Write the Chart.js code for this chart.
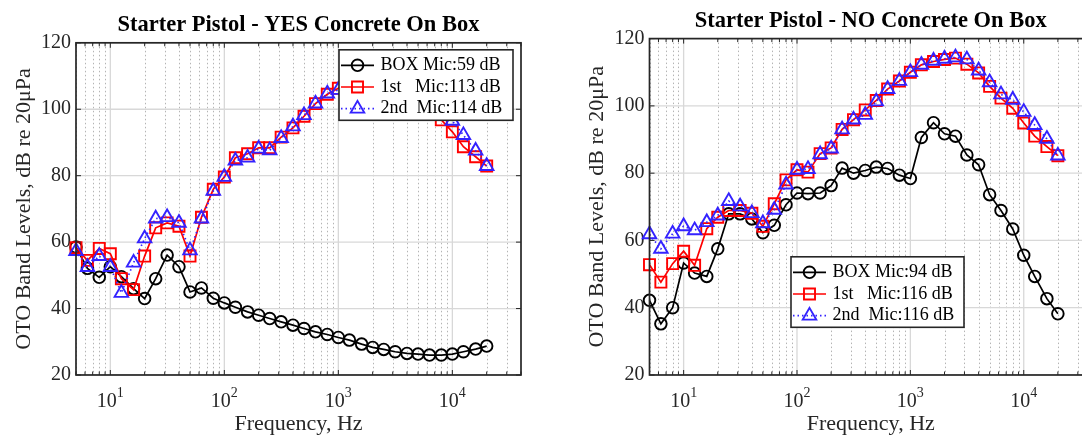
<!DOCTYPE html>
<html>
<head>
<meta charset="utf-8">
<script src="https://cdn.jsdelivr.net/npm/chart.js@4.4.1/dist/chart.umd.min.js"></script>
<style>
  html, body { margin: 0; padding: 0; background: #fff; overflow: hidden; }
  body { width: 1082px; height: 438px; position: relative; }
  .panel { position: absolute; top: 0; height: 438px; }
  #leftPanel { left: 0; width: 541px; }
  #rightPanel { left: 541px; width: 571px; }
</style>
</head>
<body>
<div class="panel" id="leftPanel"><canvas id="chartYes"></canvas></div>
<div class="panel" id="rightPanel"><canvas id="chartNo"></canvas></div>
<script>
// 1/3 octave band centre frequencies (Hz)
const freqs = [5, 6.3, 8, 10, 12.5, 16, 20, 25, 31.5, 40, 50, 63, 80, 100, 125, 160, 200, 250, 315,
  400, 500, 630, 800, 1000, 1250, 1600, 2000, 2500, 3150, 4000, 5000, 6300, 8000, 10000, 12500, 16000, 20000];

// YES concrete on box
const yesBox = [58.5, 52.1, 49.4, 52.6, 49.6, 46.0, 43.0, 49.0, 56.1, 52.6, 45.0, 46.2, 43.1, 41.7, 40.4, 39.0, 38.0, 37.0, 36.0,
  35.0, 34.0, 33.0, 32.2, 31.3, 30.5, 29.3, 28.3, 27.7, 27.0, 26.5, 26.3, 26.0, 26.0, 26.3, 27.0, 27.8, 28.7];
const yes1st = [58.3, 54.5, 58.1, 56.5, 49.0, 45.7, 55.8, 64.3, 65.8, 64.8, 55.8, 67.5, 75.9, 79.6, 85.4, 86.6, 88.4, 88.4, 91.6,
  94.4, 97.9, 101.7, 104.5, 106.3, 108.5, 110.0, 111.0, 111.0, 110.0, 107.5, 104.0, 100.5, 96.8, 93.2, 88.7, 85.7, 82.9];
const yes2nd = [57.3, 52.5, 55.8, 52.5, 44.7, 53.8, 61.1, 67.1, 67.5, 65.8, 57.5, 67.1, 75.4, 79.6, 84.5, 85.4, 88.1, 87.6, 91.3,
  94.8, 98.2, 101.7, 104.7, 105.8, 108.0, 110.0, 111.0, 111.5, 110.5, 108.5, 105.5, 102.0, 99.0, 96.5, 92.2, 87.5, 82.9];

// NO concrete on box
const noBox = [42.2, 35.2, 40.0, 53.3, 50.3, 49.3, 57.5, 67.9, 67.9, 66.4, 62.3, 64.5, 70.6, 74.1, 73.9, 74.1, 76.3, 81.5, 80.0,
  80.8, 81.8, 81.4, 79.4, 78.4, 90.6, 95.0, 91.7, 91.0, 85.4, 82.5, 73.6, 68.9, 63.4, 55.6, 49.3, 42.7, 38.2];
const no1st = [52.8, 47.6, 53.1, 56.8, 52.6, 63.5, 66.9, 68.9, 68.9, 68.1, 64.2, 70.9, 78.0, 81.0, 80.3, 85.8, 87.5, 93.0, 95.9,
  98.8, 101.6, 105.0, 107.4, 110.0, 112.2, 113.2, 113.8, 114.2, 112.4, 109.8, 105.8, 102.3, 99.3, 94.9, 91.0, 87.9, 85.2];
const no2nd = [61.8, 57.5, 62.0, 64.2, 63.0, 65.4, 67.4, 71.7, 70.1, 68.1, 65.1, 69.1, 76.6, 81.0, 81.2, 85.6, 87.3, 93.0, 95.9,
  97.3, 101.3, 105.0, 107.4, 110.0, 112.2, 113.4, 114.0, 114.4, 113.8, 110.5, 107.0, 103.4, 101.8, 98.2, 94.3, 90.2, 85.2];

const yesLabels = ['BOX Mic:59 dB', '1st   Mic:113 dB', '2nd  Mic:114 dB'];
const noLabels = ['BOX Mic:94 dB', '1st   Mic:116 dB', '2nd  Mic:116 dB'];

const yTicks = [20, 40, 60, 80, 100, 120];
const xMajorTicks = [10, 100, 1000, 10000];
const xMin = 5, xMax = 40000;

const FONT = '"Liberation Serif", "Times New Roman", serif';
const AXIS_COLOR = '#262626';
const RED = '#ff0000';
const BLUE = '#3322ff';

// minor log grid positions (2..9 x decade)
const xMinorTicks = [];
for (let d = 1; d <= 10000; d *= 10) {
  for (let k = 2; k <= 9; k++) {
    const v = k * d;
    if (v >= xMin && v <= xMax) xMinorTicks.push(v);
  }
}

function line(ctx, x1, y1, x2, y2) {
  ctx.beginPath();
  ctx.moveTo(x1, y1);
  ctx.lineTo(x2, y2);
  ctx.stroke();
}

function marker(ctx, style, r, x, y) {
  ctx.beginPath();
  if (style === 'circle') {
    ctx.arc(x, y, r, 0, Math.PI * 2);
  } else if (style === 'rect') {
    const s = Math.SQRT1_2 * r;
    ctx.rect(x - s, y - s, 2 * s, 2 * s);
  } else {
    ctx.moveTo(x, y - r);
    ctx.lineTo(x + r * 0.866, y + r / 2);
    ctx.lineTo(x - r * 0.866, y + r / 2);
    ctx.closePath();
  }
  ctx.stroke();
}

const matlabAxes = {
  id: 'matlabAxes',
  beforeDatasetsDraw(chart) {
    const {ctx, chartArea: a, scales: {x, y}} = chart;
    ctx.save();
    ctx.beginPath();
    ctx.rect(a.left, a.top, a.width, a.height);
    ctx.clip();
    // minor grid (dotted)
    ctx.strokeStyle = '#b4b4b4';
    ctx.lineWidth = 1;
    ctx.setLineDash([1.5, 2.5]);
    xMinorTicks.forEach(f => {
      const px = Math.round(x.getPixelForValue(f)) + 0.5;
      line(ctx, px, a.top, px, a.bottom);
    });
    // major grid
    ctx.setLineDash([]);
    ctx.strokeStyle = '#d8d8d8';
    ctx.lineWidth = 1.3;
    xMajorTicks.forEach(f => {
      const px = x.getPixelForValue(f);
      line(ctx, px, a.top, px, a.bottom);
    });
    yTicks.forEach(v => {
      const py = y.getPixelForValue(v);
      line(ctx, a.left, py, a.right, py);
    });
    ctx.restore();
  },
  afterDatasetsDraw(chart) {
    const {ctx, chartArea: a, scales: {x, y}} = chart;
    ctx.save();
    ctx.strokeStyle = AXIS_COLOR;
    ctx.lineWidth = 1;
    // inward ticks
    xMajorTicks.forEach(f => {
      const px = x.getPixelForValue(f);
      line(ctx, px, a.bottom, px, a.bottom - 5);
      line(ctx, px, a.top, px, a.top + 5);
    });
    xMinorTicks.forEach(f => {
      const px = x.getPixelForValue(f);
      line(ctx, px, a.bottom, px, a.bottom - 3.5);
      line(ctx, px, a.top, px, a.top + 3.5);
    });
    yTicks.forEach(v => {
      const py = y.getPixelForValue(v);
      line(ctx, a.left, py, a.left + 5, py);
      line(ctx, a.right, py, a.right - 5, py);
    });
    // box
    ctx.lineWidth = 1.7;
    ctx.strokeRect(a.left, a.top, a.width, a.height);

    // x tick labels 10^n
    ctx.fillStyle = AXIS_COLOR;
    ctx.textBaseline = 'alphabetic';
    ctx.textAlign = 'left';
    xMajorTicks.forEach(f => {
      const px = x.getPixelForValue(f);
      const exp = String(Math.round(Math.log10(f)));
      ctx.font = '20px ' + FONT;
      const w1 = ctx.measureText('10').width;
      ctx.font = '14px ' + FONT;
      const w2 = ctx.measureText(exp).width;
      const start = px - (w1 + w2) / 2;
      ctx.font = '20px ' + FONT;
      ctx.fillText('10', start, a.bottom + 31.7);
      ctx.font = '14px ' + FONT;
      ctx.fillText(exp, start + w1, a.bottom + 21.7);
    });
    ctx.restore();
  },
  afterDraw(chart) {
    const {ctx, chartArea: a} = chart;
    const o = chart.options.plugins.matlabAxes;
    const bx = a.left + o.dx, by = a.top + o.dy;
    ctx.save();
    ctx.fillStyle = '#fff';
    ctx.fillRect(bx, by, o.w, o.h);
    ctx.strokeStyle = AXIS_COLOR;
    ctx.lineWidth = 1.6;
    ctx.strokeRect(bx, by, o.w, o.h);
    chart.data.datasets.forEach((ds, i) => {
      const cy = by + 15.5 + i * 21.7;
      ctx.strokeStyle = ds.borderColor;
      ctx.lineWidth = ds.borderWidth;
      ctx.setLineDash(ds.borderDash || []);
      line(ctx, bx + 2, cy, bx + 35, cy);
      ctx.setLineDash([]);
      ctx.lineWidth = ds.pointBorderWidth;
      marker(ctx, ds.pointStyle, ds.pointRadius, bx + 18.5, cy);
      ctx.fillStyle = '#000';
      ctx.font = '18px ' + FONT;
      ctx.textBaseline = 'middle';
      ctx.fillText(ds.label, bx + 41.5, cy);
    });
    ctx.restore();
  }
};

function series(label, values, color, style, radius, dash, order) {
  return {
    label,
    data: freqs.map((f, i) => ({x: f, y: values[i]})),
    borderColor: color,
    borderWidth: 1.7,
    borderDash: dash,
    pointStyle: style,
    pointRadius: radius,
    pointBorderWidth: 1.9,
    pointBorderColor: color,
    pointBackgroundColor: 'rgba(0,0,0,0)',
    fill: false,
    tension: 0,
    clip: false,
    order
  };
}

function makeChart(canvasId, title, labels, box, first, second, opts) {
  return new Chart(document.getElementById(canvasId), {
    type: 'line',
    data: {
      datasets: [
        series(labels[0], box, '#000000', 'circle', 5.8, [], 3),
        series(labels[1], first, RED, 'rect', 7.8, [], 2),
        series(labels[2], second, BLUE, 'triangle', 7.8, [1.5, 3], 1)
      ]
    },
    options: {
      responsive: true,
      maintainAspectRatio: false,
      animation: false,
      events: [],
      layout: {padding: {left: opts.padLeft, right: 20, top: 0, bottom: 0}},
      plugins: {
        legend: {display: false},
        tooltip: {enabled: false},
        title: {
          display: true,
          text: title,
          fullSize: false,
          color: '#000',
          font: {family: FONT, size: 22.5, weight: 'bold'},
          padding: {top: opts.titleTop, bottom: opts.titleBottom}
        },
        matlabAxes: opts.legend
      },
      scales: {
        x: {
          type: 'logarithmic',
          min: xMin,
          max: xMax,
          grid: {display: false},
          border: {display: false},
          ticks: {display: false},
          title: {
            display: true,
            text: 'Frequency, Hz',
            color: AXIS_COLOR,
            font: {family: FONT, size: 22},
            padding: {top: 0, bottom: 1}
          },
          afterFit: s => { s.height = 63; }
        },
        y: {
          type: 'linear',
          min: 20,
          max: 120,
          grid: {display: false, drawTicks: false},
          border: {display: false},
          afterBuildTicks: s => { s.ticks = yTicks.map(v => ({value: v})); },
          ticks: {
            color: AXIS_COLOR,
            padding: 5,
            font: {family: FONT, size: 20}
          },
          title: {
            display: true,
            text: 'OTO Band Levels, dB re 20μPa',
            color: AXIS_COLOR,
            font: {family: FONT, size: 22},
            padding: {top: 10.6, bottom: 0}
          },
          afterFit: s => { s.width = 76; }
        }
      }
    },
    plugins: [matlabAxes]
  });
}

makeChart('chartYes', 'Starter Pistol - YES Concrete On Box', yesLabels, yesBox, yes1st, yes2nd, {
  padLeft: 0, titleTop: 11.3, titleBottom: 4.5,
  legend: {dx: 263, dy: 7, w: 174, h: 70.5}
});

makeChart('chartNo', 'Starter Pistol - NO Concrete On Box', noLabels, noBox, no1st, no2nd, {
  padLeft: 32.5, titleTop: 8.0, titleBottom: 3.6,
  legend: {dx: 141.5, dy: 218.2, w: 173, h: 70.5}
});
</script>
</body>
</html>
